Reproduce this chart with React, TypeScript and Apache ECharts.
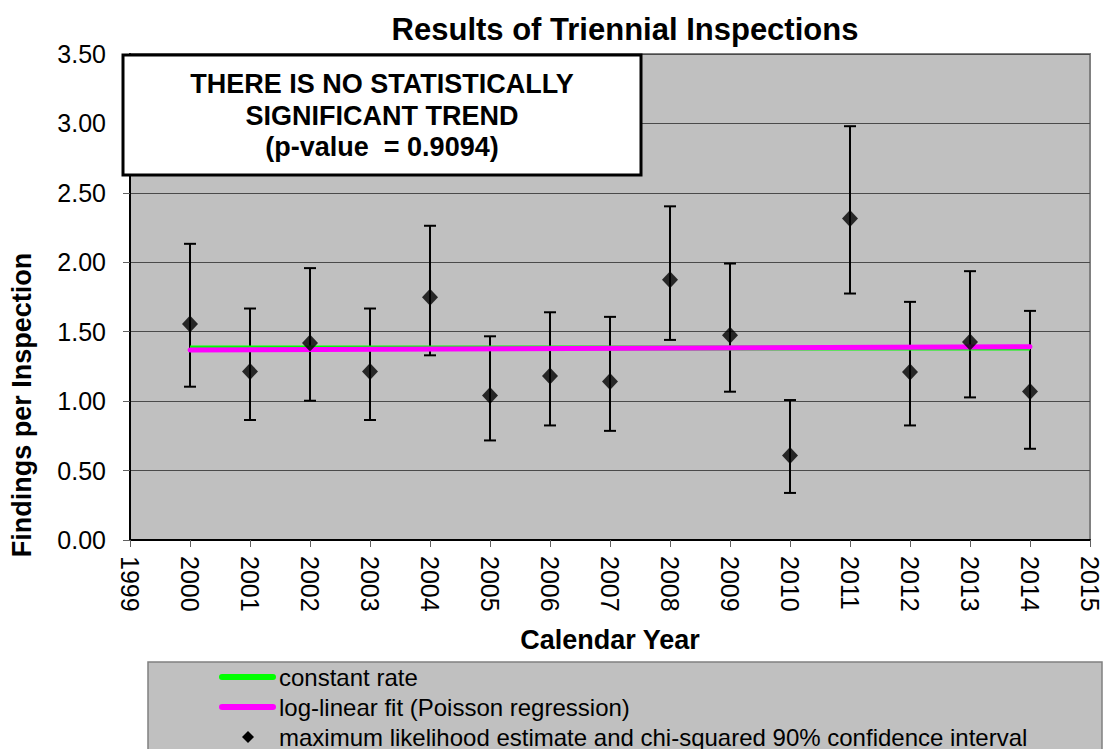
import React, { useEffect, useRef } from "react";
import * as echarts from "echarts";

const years = [2000, 2001, 2002, 2003, 2004, 2005, 2006, 2007, 2008, 2009, 2010, 2011, 2012, 2013, 2014];
const estimate = [1.556, 1.214, 1.419, 1.214, 1.748, 1.041, 1.181, 1.142, 1.874, 1.474, 0.608, 2.316, 1.21, 1.426, 1.07];
const upper = [2.133, 1.667, 1.958, 1.667, 2.263, 1.467, 1.64, 1.607, 2.403, 1.991, 1.008, 2.98, 1.715, 1.936, 1.65];
const lower = [1.104, 0.864, 1.003, 0.864, 1.33, 0.717, 0.825, 0.786, 1.441, 1.068, 0.339, 1.775, 0.825, 1.027, 0.657];
const fitYears = [2000, 2014];
const constantRate = [1.383, 1.383];
const logLinearFit = [1.368, 1.392];
const yTicks = [0, 0.5, 1, 1.5, 2, 2.5, 3, 3.5];

const title = "Results of Triennial Inspections";
const note = ["THERE IS NO STATISTICALLY", "SIGNIFICANT TREND", "(p-value  = 0.9094)"];
const legendNames = [
  "constant rate",
  "log-linear fit (Poisson regression)",
  "maximum likelihood estimate and chi-squared 90% confidence interval",
];

const FONT = "Liberation Sans, Arial, sans-serif";

export default function App() {
  const ref = useRef<HTMLDivElement>(null);
  useEffect(() => {
    if (!ref.current) return;
    const chart = echarts.init(ref.current, null, { renderer: "svg" });
    const option: any = {
      animation: false,
      backgroundColor: "#ffffff",
      textStyle: { fontFamily: FONT },
      grid: {
        left: 130,
        top: 54,
        right: 16,
        bottom: 209,
        show: true,
        backgroundColor: "#c0c0c0",
        borderColor: "#808080",
        borderWidth: 2,
      },
      xAxis: {
        type: "value",
        min: 1999,
        max: 2015,
        interval: 1,
        axisLine: { show: true, onZero: false, lineStyle: { color: "#000", width: 2 } },
        axisTick: { show: true, length: 7, lineStyle: { color: "#606060", width: 1 } },
        splitLine: { show: false },
        axisLabel: {
          rotate: -90,
          margin: 16,
          fontSize: 25,
          color: "#000",
          fontFamily: FONT,
          formatter: (v: number) => String(v),
        },
        name: "Calendar Year",
        nameLocation: "middle",
        nameGap: 86,
        nameTextStyle: { fontSize: 27, fontWeight: "bold", color: "#000", fontFamily: FONT },
      },
      yAxis: {
        type: "value",
        min: yTicks[0],
        max: yTicks[yTicks.length - 1],
        interval: 0.5,
        axisLine: { show: true, lineStyle: { color: "#000", width: 2 } },
        axisTick: { show: true, length: 7, lineStyle: { color: "#606060", width: 1 } },
        splitLine: { show: true, lineStyle: { color: "#4a4a4a", width: 1 } },
        axisLabel: {
          margin: 24,
          fontSize: 25,
          color: "#000",
          fontFamily: FONT,
          formatter: (v: number) => v.toFixed(2),
        },
      },
      series: [
        {
          name: "error bars",
          type: "custom",
          z: 2,
          data: years.map((y, i) => [y, lower[i], upper[i]]),
          renderItem: (params: any, api: any) => {
            const x = api.value(0);
            const lo = api.coord([x, api.value(1)]);
            const hi = api.coord([x, api.value(2)]);
            const hw = 6;
            const style = { stroke: "#000", lineWidth: 2 };
            return {
              type: "group",
              children: [
                { type: "line", shape: { x1: lo[0], y1: lo[1], x2: hi[0], y2: hi[1] }, style },
                { type: "line", shape: { x1: hi[0] - hw, y1: hi[1], x2: hi[0] + hw, y2: hi[1] }, style },
                { type: "line", shape: { x1: lo[0] - hw, y1: lo[1], x2: lo[0] + hw, y2: lo[1] }, style },
              ],
            };
          },
        },
        {
          name: legendNames[0],
          type: "line",
          z: 3,
          symbol: "none",
          lineStyle: { color: "#00ff00", width: 5 },
          data: fitYears.map((y, i) => [y, constantRate[i]]),
        },
        {
          name: legendNames[1],
          type: "line",
          z: 4,
          symbol: "none",
          lineStyle: { color: "#ff00ff", width: 5, cap: "round" },
          data: fitYears.map((y, i) => [y, logLinearFit[i]]),
        },
        {
          name: legendNames[2],
          type: "scatter",
          z: 5,
          symbol: "diamond",
          symbolSize: [16, 17],
          itemStyle: { color: "#000" },
          data: years.map((y, i) => [y, estimate[i]]),
        },
      ],
      graphic: [
        {
          type: "text",
          x: 625,
          y: 29,
          style: {
            text: title,
            fontSize: 31,
            fontWeight: "bold",
            fontFamily: FONT,
            fill: "#000",
            align: "center",
            verticalAlign: "middle",
          },
        },
        {
          type: "text",
          x: 22,
          y: 405,
          rotation: Math.PI / 2,
          style: {
            text: "Findings per Inspection",
            fontSize: 27,
            fontWeight: "bold",
            fontFamily: FONT,
            fill: "#000",
            align: "center",
            verticalAlign: "middle",
          },
        },
        {
          type: "rect",
          z: 100,
          shape: { x: 123, y: 55, width: 518, height: 120 },
          style: { fill: "#ffffff", stroke: "#000", lineWidth: 3 },
        },
        ...note.map((t, i) => ({
          type: "text",
          z: 101,
          x: 382,
          y: 84 + i * 31.5,
          style: {
            text: t,
            fontSize: 27,
            fontWeight: "bold",
            fontFamily: FONT,
            fill: "#000",
            align: "center",
            verticalAlign: "middle",
          },
        })),
        {
          type: "rect",
          shape: { x: 148, y: 662, width: 954, height: 100 },
          style: { fill: "#c0c0c0", stroke: "#808080", lineWidth: 1.5 },
        },
        {
          type: "line",
          shape: { x1: 222, y1: 677, x2: 273, y2: 677 },
          style: { stroke: "#00ff00", lineWidth: 6, lineCap: "round" },
        },
        {
          type: "line",
          shape: { x1: 222, y1: 707, x2: 273, y2: 707 },
          style: { stroke: "#ff00ff", lineWidth: 6, lineCap: "round" },
        },
        {
          type: "polygon",
          shape: { points: [[248, 731], [254, 737], [248, 743], [242, 737]] },
          style: { fill: "#000" },
        },
        ...legendNames.map((t, i) => ({
          type: "text",
          x: 279,
          y: 677 + i * 30,
          style: {
            text: t,
            fontSize: 24,
            fontFamily: FONT,
            fill: "#000",
            align: "left",
            verticalAlign: "middle",
          },
        })),
      ],
    };
    chart.setOption(option);
    return () => chart.dispose();
  }, []);
  return (
    <div
      ref={ref}
      style={{ position: "fixed", left: 0, top: 0, width: 1106, height: 749 }}
    />
  );
}
